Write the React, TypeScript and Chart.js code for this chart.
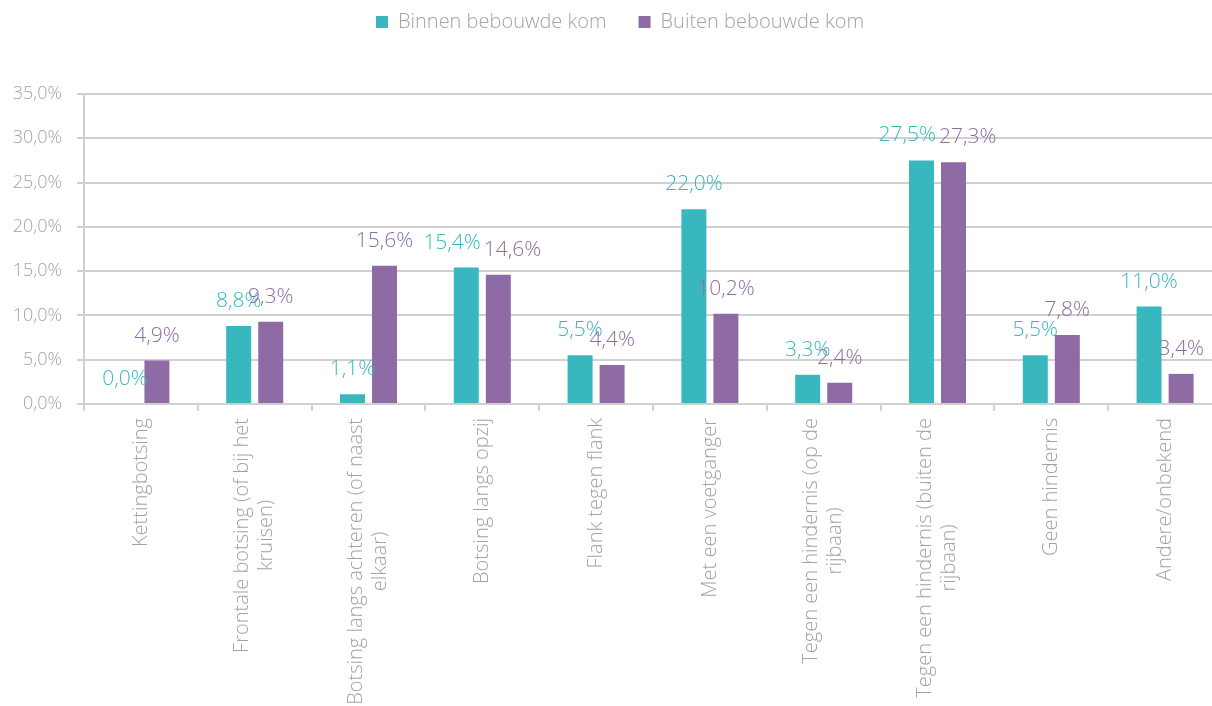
import React, { useEffect, useRef } from "react";
import { Chart, registerables } from "chart.js";

Chart.register(...registerables);

// ---- Data ----
const categories: string[][] = [
  ["Kettingbotsing"],
  ["Frontale botsing (of bij het", "kruisen)"],
  ["Botsing langs achteren (of naast", "elkaar)"],
  ["Botsing langs opzij"],
  ["Flank tegen flank"],
  ["Met een voetganger"],
  ["Tegen een hindernis (op de", "rijbaan)"],
  ["Tegen een hindernis (buiten de", "rijbaan)"],
  ["Geen hindernis"],
  ["Andere/onbekend"],
];
const seriesNames = ["Binnen bebouwde kom", "Buiten bebouwde kom"];
const binnenValues = [0.0, 8.8, 1.1, 15.4, 5.5, 22.0, 3.3, 27.5, 5.5, 11.0];
const buitenValues = [4.9, 9.3, 15.6, 14.6, 4.4, 10.2, 2.4, 27.3, 7.8, 3.4];
const yMin = 0;
const yMax = 35;
const yStep = 5;

// ---- Styles ----
const TEAL = "#38b8be";
const PURPLE = "#8e6ba5";
const TEXT_GRAY = "#a3a3a3";
const GRID = "#d0d0d0";
const FONT = "'Open Sans', 'Noto Sans', sans-serif";
const WEIGHT = 300;

const fmt = (v: number) => v.toFixed(1).replace(".", ",") + "%";

const legendLayoutPlugin = {
  id: "legendLayout",
  beforeLayout(chart: any) {
    const lg = chart.legend;
    if (lg && !lg.__patched) {
      const orig = lg.fit.bind(lg);
      lg.fit = function () {
        orig();
        this.height = 114;
      };
      lg.__patched = true;
    }
  },
  afterLayout(chart: any) {
    const lg = chart.legend;
    if (lg) {
      lg.left += 9;
      lg.right += 9;
    }
  },
};

const dataLabelPlugin = {
  id: "dataLabels",
  afterDatasetsDraw(chart: any) {
    const ctx = chart.ctx;
    ctx.save();
    ctx.font = `${WEIGHT} 21px ${FONT}`;
    ctx.textAlign = "center";
    ctx.textBaseline = "middle";
    const metas = chart.data.datasets.map((_: any, i: number) => chart.getDatasetMeta(i));
    const n = chart.data.labels.length;
    for (let i = 0; i < n; i++) {
      const items = metas.map((m: any, di: number) => {
        const el = m.data[i];
        const v = chart.data.datasets[di].data[i];
        const text = fmt(v);
        return { x: el.x, y: el.y - 25, text, color: chart.data.datasets[di].labelColor, w: ctx.measureText(text).width };
      });
      if (items.length === 2) {
        const hOverlap = (items[0].w + items[1].w) / 2 - (items[1].x - items[0].x);
        const dy = Math.abs(items[0].y - items[1].y);
        if (hOverlap > 16 && dy < 10) {
          const push = (hOverlap + 3) / 2;
          items[0].x -= push;
          items[1].x += push;
        }
      }
      items.forEach((it: any) => {
        ctx.fillStyle = it.color;
        ctx.fillText(it.text, it.x, it.y);
      });
    }
    ctx.restore();
  },
};

const xLabelPlugin = {
  id: "xLabels",
  afterDraw(chart: any) {
    const ctx = chart.ctx;
    const xs = chart.scales.x;
    const top = chart.chartArea.bottom + 14;
    const lineH = 24;
    ctx.save();
    ctx.font = `${WEIGHT} 20px ${FONT}`;
    ctx.fillStyle = TEXT_GRAY;
    ctx.textAlign = "center";
    ctx.textBaseline = "middle";
    categories.forEach((lines, i) => {
      const cx = xs.getPixelForValue(i);
      const maxW = Math.max(...lines.map((l) => ctx.measureText(l).width));
      ctx.save();
      ctx.translate(cx, top);
      ctx.rotate(-Math.PI / 2);
      lines.forEach((l, li) => {
        const off = (li - (lines.length - 1) / 2) * lineH;
        ctx.fillText(l, -maxW / 2, off);
      });
      ctx.restore();
    });
    ctx.restore();
  },
};

export default function App() {
  const canvasRef = useRef<HTMLCanvasElement | null>(null);

  useEffect(() => {
    if (!canvasRef.current) return;
    const chart = new Chart(canvasRef.current, {
      type: "bar",
      data: {
        labels: categories,
        datasets: [
          {
            label: seriesNames[0],
            data: binnenValues,
            backgroundColor: TEAL,
            borderWidth: 0,
            labelColor: TEAL,
          } as any,
          {
            label: seriesNames[1],
            data: buitenValues,
            backgroundColor: PURPLE,
            borderWidth: 0,
            labelColor: PURPLE,
          } as any,
        ],
      },
      options: {
        animation: false,
        responsive: true,
        maintainAspectRatio: false,
        layout: { padding: { top: -20, left: 0, right: 0, bottom: 0 } },
        datasets: {
          bar: { categoryPercentage: 0.563, barPercentage: 0.78 },
        },
        plugins: {
          tooltip: { enabled: false },
          legend: {
            display: true,
            position: "top",
            align: "center",
            labels: {
              boxWidth: 12,
              boxHeight: 12,
              padding: 32,
              color: TEXT_GRAY,
              font: { family: FONT, size: 20, weight: WEIGHT as any },
            },
          },
        },
        scales: {
          x: {
            type: "category",
            offset: true,
            grid: {
              display: true,
              drawOnChartArea: false,
              drawTicks: true,
              tickLength: 7,
              color: GRID,
              lineWidth: 2,
              offset: true,
            },
            border: { display: true, color: GRID, width: 2 },
            ticks: { display: false },
            afterFit: (scale: any) => {
              scale.height = 302;
            },
          },
          y: {
            min: yMin,
            max: yMax,
            ticks: {
              stepSize: yStep,
              padding: 15,
              color: TEXT_GRAY,
              font: { family: FONT, size: 18, weight: WEIGHT as any },
              callback: (v: any) => fmt(Number(v)),
            },
            grid: {
              color: GRID,
              lineWidth: 2,
              tickLength: 7,
              drawTicks: true,
            },
            border: { display: true, color: GRID, width: 2 },
            afterFit: (scale: any) => {
              scale.width = 84;
            },
          },
        },
      },
      plugins: [legendLayoutPlugin, dataLabelPlugin, xLabelPlugin],
    });
    return () => chart.destroy();
  }, []);

  return (
    <div
      style={{
        position: "fixed",
        left: 0,
        top: 0,
        width: 1212,
        height: 706,
        overflow: "hidden",
        background: "#ffffff",
      }}
    >
      <div style={{ position: "relative", width: 1222, height: 706 }}>
        <canvas ref={canvasRef} />
      </div>
    </div>
  );
}
